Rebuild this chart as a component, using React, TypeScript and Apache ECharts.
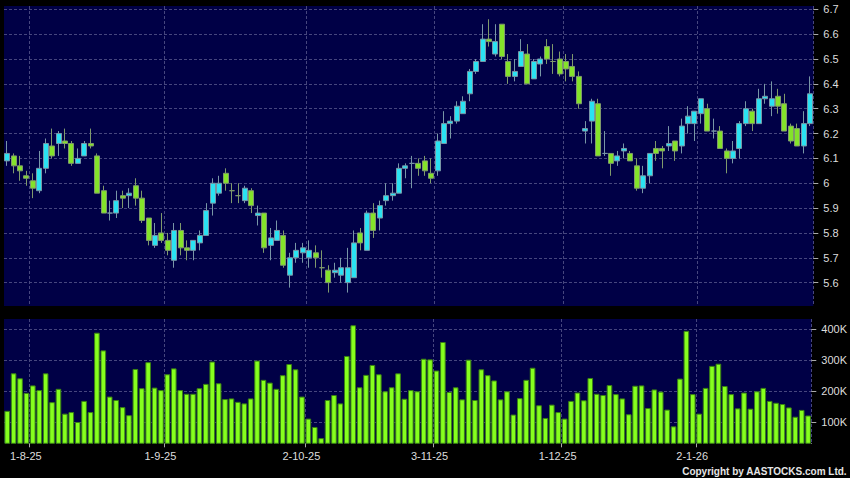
import React, { useEffect, useRef } from 'react';
import * as echarts from 'echarts';

// Trading days per month (day numbers)
const julDays = [28, 29, 30, 31];
const augDays = [1, 4, 5, 6, 7, 8, 11, 12, 13, 14, 15, 18, 19, 20, 21, 22, 25, 26, 27, 28, 29];
const sepDays = [1, 2, 3, 4, 5, 8, 9, 10, 11, 12, 15, 16, 17, 18, 19, 22, 23, 24, 25, 26, 29, 30];
const octDays = [2, 3, 6, 8, 9, 10, 13, 14, 15, 16, 17, 20, 21, 22, 23, 24, 27, 28, 30, 31];
const novDays = [3, 4, 5, 6, 7, 10, 11, 12, 13, 14, 17, 18, 19, 20, 21, 24, 25, 26, 27, 28];
const decDays = [1, 2, 3, 4, 5, 8, 9, 10, 11, 12, 15, 16, 17, 18, 19, 22, 23, 24, 29, 30, 31];
const janDays = [2, 5, 6, 7, 8, 9, 12, 13, 14, 15, 16, 19, 20, 21, 22, 23, 26, 27];

const opens = [
  6.09, 6.11, 6.07, 6.03, 6.01, 5.97, 6.06, 6.15, 6.16, 6.17,
  6.16, 6.08, 6.11, 6.16, 6.11, 5.97, 5.88, 5.88, 5.95, 5.95,
  5.99, 5.94, 5.86, 5.75, 5.80, 5.77, 5.69, 5.81, 5.74, 5.73,
  5.76, 5.79, 5.92, 5.96, 6.04, 5.97, 5.95, 5.93, 5.97, 5.87,
  5.88, 5.75, 5.77, 5.79, 5.63, 5.70, 5.72, 5.70, 5.72, 5.66,
  5.65, 5.64, 5.63, 5.60, 5.62, 5.80, 5.73, 5.88, 5.86, 5.93,
  5.95, 5.96, 6.06, 6.08, 6.08, 6.09, 6.04, 6.05, 6.16, 6.24,
  6.25, 6.28, 6.36, 6.45, 6.49, 6.58, 6.52, 6.64, 6.49, 6.43,
  6.47, 6.52, 6.42, 6.48, 6.55, 6.49, 6.50, 6.49, 6.47, 6.43,
  6.21, 6.25, 6.32, 6.12, 6.12, 6.09, 6.13, 6.12, 6.07, 5.98,
  6.03, 6.14, 6.14, 6.15, 6.17, 6.15, 6.24, 6.24, 6.28, 6.30,
  6.21, 6.21, 6.13, 6.10, 6.14, 6.24, 6.29, 6.24, 6.34, 6.31,
  6.35, 6.32, 6.23, 6.22, 6.15, 6.24,
];
const closes = [
  6.12, 6.07, 6.05, 6.02, 5.98, 6.06, 6.16, 6.11, 6.20, 6.16,
  6.08, 6.10, 6.16, 6.15, 5.96, 5.88, 5.88, 5.93, 5.94, 5.96,
  5.94, 5.85, 5.77, 5.79, 5.77, 5.73, 5.81, 5.74, 5.73, 5.77,
  5.79, 5.89, 6.00, 6.00, 6.00, 5.97, 5.95, 5.98, 5.91, 5.88,
  5.74, 5.78, 5.81, 5.67, 5.70, 5.73, 5.74, 5.73, 5.70, 5.66,
  5.60, 5.65, 5.66, 5.66, 5.76, 5.76, 5.88, 5.81, 5.91, 5.95,
  5.96, 6.06, 6.07, 6.08, 6.06, 6.05, 6.02, 6.17, 6.24, 6.25,
  6.31, 6.33, 6.45, 6.49, 6.58, 6.57, 6.57, 6.51, 6.43, 6.45,
  6.53, 6.40, 6.49, 6.50, 6.50, 6.49, 6.44, 6.46, 6.43, 6.32,
  6.22, 6.33, 6.11, 6.12, 6.08, 6.11, 6.14, 6.09, 5.98, 6.03,
  6.12, 6.12, 6.13, 6.16, 6.13, 6.23, 6.27, 6.29, 6.34, 6.21,
  6.21, 6.14, 6.10, 6.13, 6.24, 6.30, 6.24, 6.34, 6.35, 6.34,
  6.31, 6.21, 6.17, 6.15, 6.24, 6.36,
];
const lows = [
  6.07, 6.04, 6.01, 5.99, 5.94, 5.96, 6.04, 6.10, 6.11, 6.14,
  6.07, 6.08, 6.11, 6.14, 5.96, 5.88, 5.85, 5.86, 5.90, 5.90,
  5.91, 5.84, 5.75, 5.74, 5.76, 5.71, 5.66, 5.71, 5.69, 5.69,
  5.73, 5.79, 5.87, 5.95, 5.97, 5.92, 5.92, 5.92, 5.88, 5.83,
  5.72, 5.69, 5.77, 5.66, 5.58, 5.68, 5.68, 5.66, 5.66, 5.62,
  5.56, 5.62, 5.60, 5.56, 5.62, 5.73, 5.73, 5.78, 5.81, 5.91,
  5.93, 5.96, 6.02, 5.98, 6.03, 6.03, 6.00, 6.03, 6.16, 6.18,
  6.24, 6.28, 6.33, 6.44, 6.49, 6.55, 6.51, 6.50, 6.40, 6.41,
  6.47, 6.40, 6.42, 6.43, 6.48, 6.44, 6.43, 6.41, 6.41, 6.30,
  6.16, 6.16, 6.11, 6.11, 6.03, 6.07, 6.10, 6.09, 5.97, 5.96,
  6.00, 6.09, 6.06, 6.13, 6.09, 6.12, 6.20, 6.17, 6.24, 6.21,
  6.18, 6.14, 6.04, 6.08, 6.10, 6.23, 6.21, 6.24, 6.32, 6.27,
  6.28, 6.21, 6.16, 6.15, 6.12, 6.23,
];
const highs = [
  6.17, 6.12, 6.11, 6.05, 6.04, 6.13, 6.18, 6.22, 6.21, 6.22,
  6.17, 6.14, 6.17, 6.22, 6.12, 5.99, 5.93, 5.97, 5.97, 5.98,
  6.02, 5.97, 5.86, 5.84, 5.88, 5.80, 5.84, 5.84, 5.77, 5.77,
  5.81, 5.92, 6.02, 6.03, 6.06, 6.00, 6.00, 5.99, 5.98, 5.91,
  5.88, 5.82, 5.85, 5.81, 5.72, 5.76, 5.76, 5.77, 5.75, 5.73,
  5.67, 5.68, 5.70, 5.74, 5.81, 5.82, 5.89, 5.92, 5.93, 6.00,
  6.00, 6.08, 6.08, 6.11, 6.10, 6.11, 6.10, 6.20, 6.29, 6.27,
  6.33, 6.35, 6.46, 6.50, 6.64, 6.66, 6.64, 6.64, 6.52, 6.50,
  6.58, 6.56, 6.50, 6.51, 6.58, 6.56, 6.53, 6.52, 6.52, 6.45,
  6.25, 6.34, 6.34, 6.21, 6.12, 6.13, 6.16, 6.13, 6.10, 6.07,
  6.12, 6.17, 6.15, 6.23, 6.17, 6.26, 6.31, 6.29, 6.34, 6.32,
  6.26, 6.23, 6.14, 6.17, 6.25, 6.33, 6.30, 6.38, 6.40, 6.41,
  6.38, 6.36, 6.24, 6.24, 6.29, 6.43,
];
const volumes = [
  137000, 258000, 242000, 195000, 219000, 204000, 258000, 165000, 208000, 128000,
  133000, 101000, 169000, 133000, 389000, 332000, 183000, 172000, 149000, 123000,
  272000, 210000, 294000, 212000, 204000, 255000, 274000, 204000, 192000, 192000,
  210000, 224000, 296000, 226000, 175000, 177000, 166000, 161000, 177000, 299000,
  237000, 228000, 208000, 252000, 288000, 271000, 183000, 112000, 85000, 49000,
  172000, 188000, 161000, 314000, 413000, 213000, 253000, 285000, 255000, 200000,
  213000, 258000, 176000, 204000, 200000, 305000, 303000, 267000, 359000, 198000,
  213000, 174000, 302000, 172000, 271000, 252000, 235000, 174000, 200000, 125000,
  178000, 237000, 276000, 155000, 114000, 157000, 133000, 112000, 169000, 196000,
  171000, 243000, 192000, 188000, 220000, 191000, 177000, 126000, 218000, 219000,
  146000, 206000, 199000, 141000, 87000, 241000, 395000, 191000, 128000, 211000,
  282000, 289000, 217000, 191000, 145000, 196000, 144000, 200000, 211000, 169000,
  163000, 159000, 148000, 118000, 140000, 122000,
];

const monthSegments: [number[], number, string][] = [
  [julDays, 7, '25'],
  [augDays, 8, '25'],
  [sepDays, 9, '25'],
  [octDays, 10, '25'],
  [novDays, 11, '25'],
  [decDays, 12, '25'],
  [janDays, 1, '26'],
];

const categories: string[] = [];
const monthStarts = new Set<number>();
monthSegments.forEach(([days, m, yy], si) => {
  if (si > 0) monthStarts.add(categories.length);
  days.forEach((d) => categories.push(`${d}-${m}-${yy}`));
});

const NAVY = '#000046';
const GRID_C = '#46467e';
const CYAN = '#2ae2f2';
const GREEN = '#84e32a';

export default function App() {
  const ref = useRef<HTMLDivElement>(null);
  useEffect(() => {
    const chart = echarts.init(ref.current!, null, { renderer: 'svg' });
    const isStart = (i: number) => monthStarts.has(i);
    const candles = opens.map((o, i) => [o, closes[i], lows[i], highs[i]]);
    const splitLine = { show: true, interval: isStart, lineStyle: { color: GRID_C, type: [3, 2], width: 1 } };
    const hSplit = (n: number) => ({
      show: true,
      lineStyle: {
        color: ['rgba(0,0,0,0)'].concat(Array(n).fill(GRID_C)).concat(['rgba(0,0,0,0)']),
        type: [3, 2],
        width: 1,
      },
    });
    chart.setOption({
      animation: false,
      backgroundColor: '#000000',
      grid: [
        { left: 4, right: 36.7, top: 6, height: 300, show: true, backgroundColor: NAVY, borderWidth: 0 },
        { left: 4, right: 36.7, top: 319, height: 124.3, show: true, backgroundColor: NAVY, borderWidth: 0 },
      ],
      xAxis: [
        {
          type: 'category', gridIndex: 0, data: categories, boundaryGap: true,
          axisLine: { show: false }, axisTick: { show: false }, axisLabel: { show: false },
          splitLine,
        },
        {
          type: 'category', gridIndex: 1, data: categories, boundaryGap: true,
          axisLine: { show: false },
          axisTick: { show: true, interval: isStart, length: 4, lineStyle: { color: '#aaaaaa' } },
          axisLabel: {
            interval: isStart, color: '#dddddd', fontSize: 11, fontFamily: 'Liberation Sans',
            margin: 7, padding: [0, 14, 0, 0],
          },
          splitLine,
        },
      ],
      yAxis: [
        {
          type: 'value', gridIndex: 0, position: 'right', scale: true,
          min: 5.506, max: 6.7133, minInterval: 0.1, maxInterval: 0.1,
          axisLine: { show: false },
          axisTick: { show: true, length: 5, lineStyle: { color: '#aaaaaa' } },
          axisLabel: {
            color: '#dddddd', fontSize: 11, fontFamily: 'Liberation Sans', margin: 10,
            showMinLabel: false, showMaxLabel: false,
            formatter: (v: number) => String(Math.round(v * 10) / 10),
          },
          splitLine: hSplit(12),
        },
        {
          type: 'value', gridIndex: 1, position: 'right', scale: true,
          min: 32300, max: 433200, minInterval: 100000, maxInterval: 100000,
          axisLine: { show: false },
          axisTick: { show: true, length: 5, lineStyle: { color: '#aaaaaa' } },
          axisLabel: {
            color: '#dddddd', fontSize: 11, fontFamily: 'Liberation Sans', margin: 10,
            showMinLabel: false, showMaxLabel: false,
            formatter: (v: number) => `${Math.round(v / 1000)}K`,
          },
          splitLine: hSplit(4),
        },
      ],
      series: [
        {
          type: 'candlestick', xAxisIndex: 0, yAxisIndex: 0, data: candles, barWidth: 5.5,
          itemStyle: {
            color: CYAN, color0: GREEN, borderColor: '#7896a6', borderColor0: '#7f9a6c', borderWidth: 1,
          },
        },
        {
          type: 'bar', xAxisIndex: 1, yAxisIndex: 1, data: volumes, barWidth: 5.6,
          itemStyle: { color: '#86ff1e', borderColor: '#3a8214', borderWidth: 1 },
        },
      ],
      graphic: [
        {
          type: 'rect', left: 790, top: 444, z: 100,
          shape: { width: 30, height: 18 },
          style: { fill: '#000000' },
        },
        {
          type: 'text', right: 3, top: 466, z: 101,
          style: {
            text: 'Copyright by AASTOCKS.com Ltd.', fill: '#e6e6e6',
            font: 'bold 10px "Liberation Sans"',
          },
        },
      ],
    });
    return () => chart.dispose();
  }, []);
  return (
    <div
      ref={ref}
      style={{ position: 'fixed', left: 0, top: 0, width: 850, height: 478, background: '#000' }}
    />
  );
}
